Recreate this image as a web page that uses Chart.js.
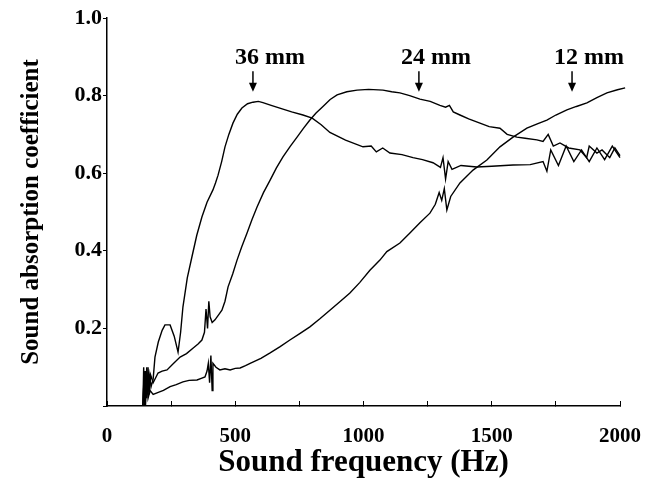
<!DOCTYPE html>
<html>
<head>
<meta charset="utf-8">
<script src="https://cdn.jsdelivr.net/npm/chart.js@4/dist/chart.umd.min.js"></script>
<style>
  html, body { margin: 0; padding: 0; background: #fff; }
  canvas { display: block; }
</style>
</head>
<body>
<canvas id="chart" width="645" height="491"></canvas>
<script>
// frequencies (Hz) and absorption coefficients
const freq36 = [140,145,150,155,160,165,172,180,187,200,215,226,246,262,277,287,296,313,331,350,370,390,413,423,433,447,460,475,491,508,526,548,569,590,608,640,686,720,764,800,835,869,930,998,1030,1050,1075,1103,1150,1193,1230,1271,1300,1310,1320,1330,1345,1380,1442,1500,1583,1650,1700,1715,1730,1760,1790,1820,1850,1880,1910,1940,1970,2000,2020];
const abs36  = [0,0.09,0.02,0.1,0.03,0.08,0.05,0.07,0.126,0.165,0.195,0.209,0.209,0.18,0.139,0.19,0.255,0.33,0.384,0.44,0.487,0.525,0.557,0.575,0.595,0.63,0.668,0.7,0.729,0.752,0.768,0.779,0.783,0.785,0.782,0.775,0.765,0.758,0.75,0.742,0.725,0.705,0.685,0.668,0.67,0.655,0.665,0.652,0.648,0.64,0.635,0.627,0.615,0.64,0.585,0.63,0.61,0.62,0.616,0.618,0.621,0.622,0.63,0.605,0.66,0.62,0.67,0.63,0.66,0.63,0.665,0.635,0.67,0.64,0.66];

const freq24 = [140,143,147,150,155,160,165,170,180,199,215,234,260,285,310,335,355,370,380,386,392,397,402,410,421,435,448,460,472,490,507,525,546,565,585,610,636,660,686,715,741,765,791,815,842,870,897,935,975,1020,1076,1110,1142,1180,1220,1260,1298,1320,1335,1350,1376,1410,1454,1490,1532,1560,1598,1630,1676,1700,1720,1740,1766,1800,1844,1870,1880,1910,1930,1960,1980,2000,2020];
const abs24  = [0,0.1,0,0.09,0.02,0.1,0.03,0.08,0.06,0.085,0.09,0.093,0.11,0.126,0.135,0.149,0.16,0.17,0.19,0.25,0.2,0.27,0.23,0.215,0.222,0.235,0.247,0.27,0.307,0.34,0.376,0.41,0.446,0.48,0.513,0.55,0.582,0.613,0.642,0.67,0.693,0.715,0.737,0.755,0.772,0.79,0.802,0.81,0.814,0.816,0.814,0.81,0.807,0.8,0.791,0.785,0.775,0.77,0.775,0.758,0.75,0.74,0.729,0.72,0.716,0.7,0.693,0.69,0.686,0.682,0.7,0.67,0.678,0.665,0.66,0.64,0.67,0.652,0.66,0.64,0.665,0.645,0.655];

const freq12 = [140,145,150,155,160,168,180,200,220,246,270,296,320,351,370,382,390,395,400,405,410,413,425,440,460,480,500,519,540,558,600,636,675,713,750,791,830,869,910,947,985,1025,1064,1091,1142,1180,1220,1259,1280,1295,1305,1315,1325,1340,1376,1427,1481,1532,1583,1637,1680,1715,1750,1793,1830,1871,1910,1949,1990,2020];
const abs12  = [0,0.08,0,0.07,0.02,0.04,0.03,0.035,0.04,0.05,0.055,0.062,0.066,0.067,0.072,0.075,0.09,0.11,0.06,0.13,0.04,0.11,0.1,0.093,0.096,0.093,0.097,0.098,0.104,0.11,0.123,0.137,0.153,0.17,0.186,0.204,0.225,0.247,0.27,0.291,0.318,0.35,0.376,0.398,0.42,0.445,0.472,0.497,0.52,0.55,0.53,0.56,0.505,0.54,0.575,0.608,0.634,0.668,0.693,0.716,0.728,0.737,0.75,0.763,0.772,0.781,0.795,0.807,0.815,0.82];

// peak markers
const markLabels = ['36 mm', '24 mm', '12 mm'];
const markFreq = [569, 1216, 1813];

// x ticks every 250 Hz, labelled every 500 Hz
const xTicks = [0, 250, 500, 750, 1000, 1250, 1500, 1750, 2000];

const FONT = 'Liberation Serif';

function points(xs, ys) {
    return xs.map((x, i) => ({x: x, y: ys[i]}));
}

function lineSet(label, xs, ys) {
    return {
        label: label,
        data: points(xs, ys),
        borderColor: '#000',
        borderWidth: 1.4,
        pointRadius: 0,
        tension: 0,
        fill: false,
        clip: false,
    };
}

const markers = {
    id: 'markers',
    afterDatasetsDraw(chart) {
        const {ctx, scales: {x, y}} = chart;
        ctx.save();
        ctx.fillStyle = '#000';
        ctx.strokeStyle = '#000';
        ctx.font = 'bold 24px "' + FONT + '"';
        ctx.textBaseline = 'middle';
        ctx.textAlign = 'left';
        markFreq.forEach((f, i) => {
            const px = x.getPixelForValue(f);
            const top = y.getPixelForValue(0.863);
            const bot = y.getPixelForValue(0.81);
            ctx.fillText(markLabels[i], px - 18, y.getPixelForValue(0.897));
            ctx.lineWidth = 1.5;
            ctx.beginPath();
            ctx.moveTo(px, top);
            ctx.lineTo(px, bot - 6);
            ctx.stroke();
            ctx.beginPath();
            ctx.moveTo(px - 4, bot - 9);
            ctx.lineTo(px + 4, bot - 9);
            ctx.lineTo(px, bot);
            ctx.closePath();
            ctx.fill();
        });
        ctx.restore();
    }
};

new Chart(document.getElementById('chart'), {
    type: 'line',
    data: {
        datasets: [
            lineSet('36 mm', freq36, abs36),
            lineSet('24 mm', freq24, abs24),
            lineSet('12 mm', freq12, abs12),
        ]
    },
    options: {
        responsive: false,
        animation: false,
        layout: { padding: { left: 0, right: 25, top: 18, bottom: 0 } },
        plugins: { legend: { display: false }, tooltip: { enabled: false } },
        scales: {
            x: {
                type: 'linear',
                min: 0,
                max: 2000,
                afterFit: s => { s.height = 85; s.paddingLeft = 0; s.paddingRight = 0; },
                afterBuildTicks: s => { s.ticks = xTicks.map(v => ({value: v})); },
                grid: { drawOnChartArea: false, drawTicks: true, tickLength: -5, color: '#000', lineWidth: 1 },
                border: { display: true, color: '#000', width: 1.5 },
                ticks: {
                    color: '#000',
                    padding: 23,
                    maxRotation: 0,
                    autoSkip: false,
                    font: { family: FONT, size: 21, weight: 'bold' },
                    callback: v => (v % 500 === 0 ? String(v) : ''),
                },
                title: {
                    display: true,
                    text: 'Sound frequency (Hz)',
                    color: '#000',
                    font: { family: FONT, size: 31, weight: 'bold' },
                    padding: { top: 0, bottom: 9 },
                },
            },
            y: {
                min: 0,
                max: 1,
                afterFit: s => { s.width = 107; s.paddingTop = 0; s.paddingBottom = 0; },
                grid: { drawOnChartArea: false, drawTicks: true, tickLength: 4, color: '#000', lineWidth: 1 },
                border: { display: true, color: '#000', width: 1.5 },
                ticks: {
                    stepSize: 0.2,
                    color: '#000',
                    padding: 1,
                    font: { family: FONT, size: 22, weight: 'bold' },
                    callback: v => (v > 0 ? v.toFixed(1) : ''),
                },
                title: {
                    display: true,
                    text: 'Sound absorption coefficient',
                    color: '#000',
                    font: { family: FONT, size: 25, weight: 'bold' },
                    padding: { top: 17, bottom: 0 },
                },
            },
        },
    },
    plugins: [markers],
});
</script>
</body>
</html>
